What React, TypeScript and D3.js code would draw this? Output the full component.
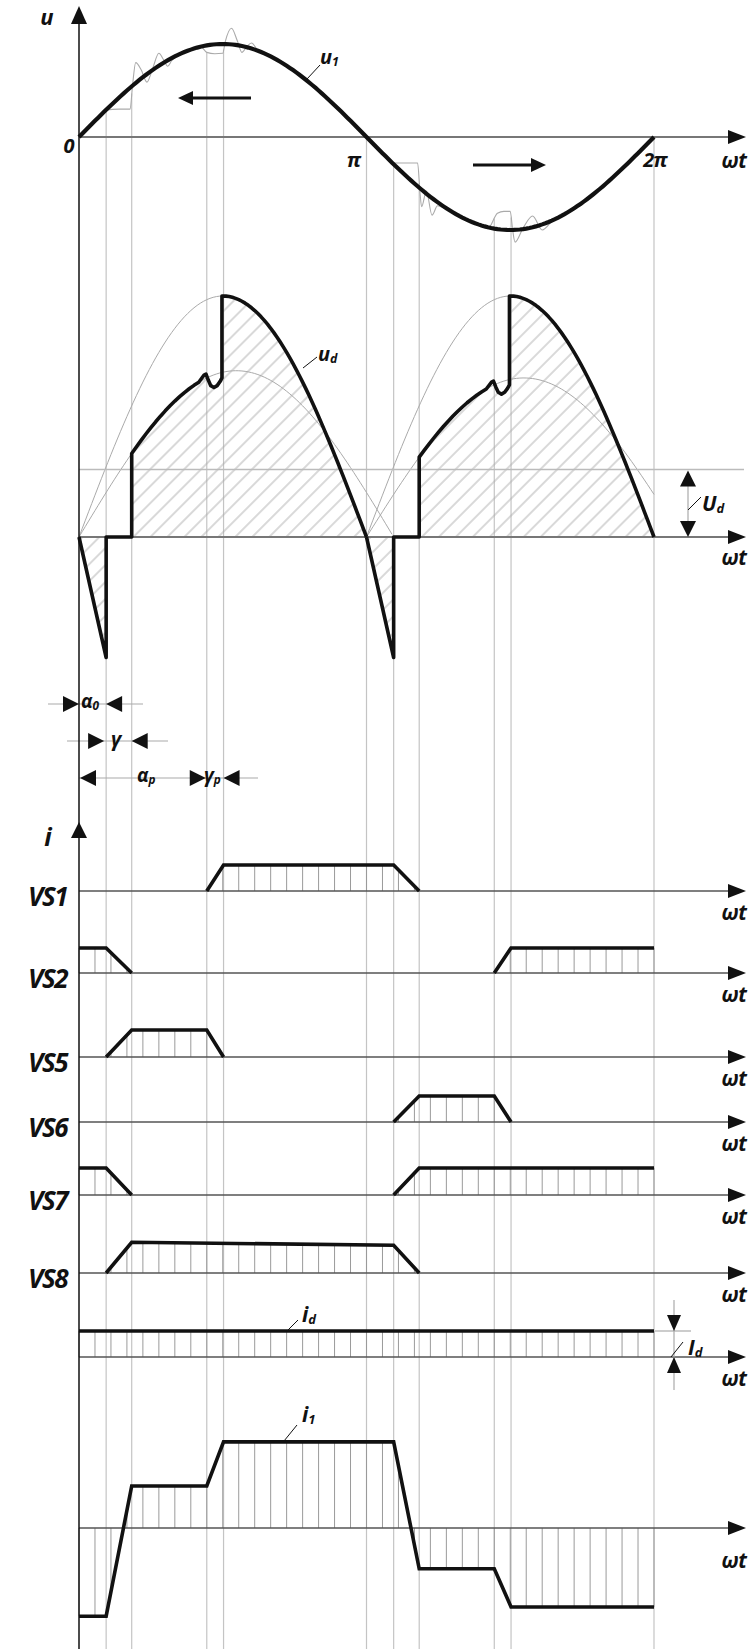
import * as d3 from 'd3'

type Pt = [number, number]

// angles in degrees, 0..360 = 0..2π
const gridAngles = [17, 33, 80, 90.5, 180, 197, 213, 260, 270.5, 360]

// gray u1 with commutation ripple [angle, u/Um]
const u1Ripple: Pt[] = [
  [0, 0], [8, 0.139], [17, 0.29], [25, 0.3], [32, 0.3], [33.5, 0.55], [35.5, 0.8], [39, 0.72],
  [42.5, 0.59], [46, 0.73], [50, 0.9], [53, 0.83], [55.5, 0.76], [58, 0.82], [62, 0.88], [70, 0.94],
  [76, 0.975], [80, 0.91], [85, 0.895], [90, 0.9], [91.5, 1.02], [95.5, 1.17], [99, 1.04], [102, 0.91],
  [105, 0.97], [108, 1.01], [112, 0.93], [120, 0.866], [135, 0.707], [150, 0.5], [165, 0.259], [180, 0],
  [188, -0.14], [197, -0.28], [205, -0.28], [212, -0.28], [213.5, -0.6], [214.5, -0.75], [217.5, -0.58],
  [221, -0.84], [224.5, -0.74], [229, -0.77], [240, -0.866], [250, -0.94], [256, -0.985], [262, -0.82],
  [266, -0.8], [270, -0.8], [271.5, -1.0], [273, -1.13], [278, -0.98], [284, -0.85], [290, -1.0],
  [297, -0.89], [305, -0.82], [315, -0.707], [330, -0.5], [345, -0.259], [360, 0],
]

// rectified voltage ud (in units of the big arc)
const udSpike = -0.5
const udSmallAmp = [0.69, 0.66]
const udSmallSpan = 197
const udHook: Pt[] = [[78.3, 0.672], [79.5, 0.676], [81, 0.65], [82.5, 0.628], [84.5, 0.62], [86.5, 0.628], [88.3, 0.645], [89.5, 0.66]]
const udLevel = 0.28

// valve currents [angle, i/Id]
const vs1: Pt[][] = [[[80, 0], [90.5, 1], [197, 1], [213, 0]]]
const vs2: Pt[][] = [[[0, 1], [17, 1], [33, 0]], [[260, 0], [270.5, 1], [360, 1]]]
const vs5: Pt[][] = [[[17, 0], [33, 1], [80, 1], [90.5, 0]]]
const vs6: Pt[][] = [[[197, 0], [213, 1], [260, 1], [270.5, 0]]]
const vs7: Pt[][] = [[[0, 1], [17, 1], [33, 0]], [[197, 0], [213, 1], [360, 1]]]
const vs8: Pt[][] = [[[17, 0], [33, 1.18], [197, 1.07], [213, 0]]]
const idCurve: Pt[][] = [[[0, 1], [360, 1]]]
const i1Curve: Pt[][] = [[
  [0, -2.1], [17, -2.1], [33, 1], [80, 1], [90.5, 2.05], [197, 2.05],
  [213, -0.97], [260, -0.97], [270.5, -1.88], [360, -1.88],
]]

const W = 749
const H = 1649
const X0 = 79
const AX_END = 746
const x = d3.scaleLinear().domain([0, 360]).range([X0, 654])
const rad = (a: number) => (a * Math.PI) / 180
const FONT = "'Open Sans', 'DejaVu Sans', sans-serif"
const GRID = '#c4c4c4'
const INK = '#111'

const interp = (pts: Pt[], a: number): number | null => {
  for (let k = 0; k < pts.length - 1; k++) {
    const [a0, v0] = pts[k]
    const [a1, v1] = pts[k + 1]
    if (a1 > a0 && a >= a0 && a <= a1) return v0 + ((v1 - v0) * (a - a0)) / (a1 - a0)
  }
  return null
}

// filled arrow head, tip at (tx,ty) pointing dir
const head = (tx: number, ty: number, dir: 'l' | 'r' | 'u' | 'd', len = 16, half = 7) => {
  if (dir === 'r') return `M${tx},${ty}L${tx - len},${ty - half}L${tx - len},${ty + half}Z`
  if (dir === 'l') return `M${tx},${ty}L${tx + len},${ty - half}L${tx + len},${ty + half}Z`
  if (dir === 'u') return `M${tx},${ty}L${tx - half},${ty + len}L${tx + half},${ty + len}Z`
  return `M${tx},${ty}L${tx - half},${ty - len}L${tx + half},${ty - len}Z`
}

const rows = [
  { label: 'VS1', data: vs1, base: 891, unit: 26 },
  { label: 'VS2', data: vs2, base: 973, unit: 25 },
  { label: 'VS5', data: vs5, base: 1057, unit: 27 },
  { label: 'VS6', data: vs6, base: 1122, unit: 26 },
  { label: 'VS7', data: vs7, base: 1195, unit: 27 },
  { label: 'VS8', data: vs8, base: 1273, unit: 26 },
  { label: '', data: idCurve, base: 1357, unit: 26 },
  { label: '', data: i1Curve, base: 1528, unit: 42 },
]

const Omega = ({ y }: { y: number }) => (
  <text x={734} y={y} textAnchor="middle" fontSize={21} fontWeight={700} fontStyle="italic" fill={INK} letterSpacing={-0.5}>ωt</text>
)

const Sub = ({ x0, y, main, sub, size = 20 }: { x0: number; y: number; main: string; sub: string; size?: number }) => (
  <text x={x0} y={y} fontSize={size} fontWeight={700} fontStyle="italic" fill={INK}>
    {main}
    <tspan fontSize={size * 0.62} dy={2}>{sub}</tspan>
  </text>
)

export default function App() {
  // panel 1
  const y1 = d3.scaleLinear().domain([-1, 1]).range([230, 44])
  const u1Pts: Pt[] = d3.range(0, 361, 2).map((a) => [a, Math.sin(rad(a))] as Pt)
  const line1 = d3.line<Pt>().x((d) => x(d[0])).y((d) => y1(d[1]))
  const ripple1 = d3.line<Pt>().x((d) => x(d[0])).y((d) => y1(d[1])).curve(d3.curveMonotoneX)

  // panel 2
  const y2 = d3.scaleLinear().domain([0, 1]).range([537, 296])
  const line2 = d3.line<Pt>().x((d) => x(d[0])).y((d) => y2(d[1]))
  const udPeriod = (k: number): Pt[] => {
    const o = 180 * k
    const s = udSmallAmp[k]
    const f = s / udSmallAmp[0]
    const small = (a: number) => s * Math.sin((Math.PI * a) / udSmallSpan)
    const pts: Pt[] = [[o, 0], [o + 17, udSpike], [o + 17, 0], [o + 33, 0]]
    d3.range(33, 78, 3).forEach((a) => pts.push([o + a, small(a)]))
    udHook.forEach(([a, v]) => pts.push([o + a, v * f]))
    pts.push([o + 89.5, 1])
    d3.range(90, 180.01, 2).forEach((a) => pts.push([o + a, Math.sin(rad(a))]))
    return pts
  }
  const ud = [udPeriod(0), udPeriod(1)]
  const bigArcs = [0, 1].map((k) => d3.range(0, 180.01, 2).map((a) => [180 * k + a, Math.sin(rad(a))] as Pt))
  const smallArcs = [0, 1].map((k) =>
    d3.range(0, Math.min(udSmallSpan, 360 - 180 * k) + 0.01, 2).map(
      (a) => [180 * k + a, udSmallAmp[k] * Math.sin((Math.PI * a) / udSmallSpan)] as Pt,
    ),
  )
  const udArea = ud.map((p) => line2(p) + 'Z').join('')

  const hatchAngles = d3.range(0, 361, 10)

  return (
    <svg width={W} height={H} viewBox={`0 0 ${W} ${H}`} fontFamily={FONT}
      style={{ position: 'absolute', left: 0, top: 0, background: '#fff', display: 'block' }}>
      <defs>
        <pattern id="diag" width={12} height={12} patternUnits="userSpaceOnUse" patternTransform="rotate(45)">
          <line x1={6} y1={0} x2={6} y2={12} stroke="#aaa" strokeWidth={0.9} />
        </pattern>
        <clipPath id="udClip"><path d={udArea} /></clipPath>
      </defs>

      {/* vertical guide lines */}
      {gridAngles.map((a) => {
        const v = interp(u1Ripple, a) ?? 0
        return <line key={a} x1={x(a)} x2={x(a)} y1={y1(v)} y2={H} stroke={GRID} strokeWidth={1.2} />
      })}

      {/* ---------- panel 1: u ---------- */}
      <path d={ripple1(u1Ripple) ?? ''} fill="none" stroke="#aaa" strokeWidth={1.1} />
      <line x1={X0} x2={AX_END - 15} y1={y1(0)} y2={y1(0)} stroke="#777" strokeWidth={2} />
      <path d={head(AX_END, y1(0), 'r', 18, 7)} fill={INK} />
      <path d={line1(u1Pts) ?? ''} fill="none" stroke={INK} strokeWidth={4.2} />
      <line x1={307} y1={79} x2={320} y2={65} stroke={INK} strokeWidth={1} />
      <Sub x0={320} y={64} main="u" sub="1" size={20} />
      <line x1={251} x2={190} y1={98} y2={98} stroke={INK} strokeWidth={2.8} />
      <path d={head(178, 98, 'l', 15, 7)} fill={INK} />
      <line x1={473} x2={534} y1={165} y2={165} stroke={INK} strokeWidth={2.8} />
      <path d={head(546, 165, 'r', 15, 7)} fill={INK} />
      <text x={47} y={25} textAnchor="middle" fontSize={22} fontWeight={700} fontStyle="italic" fill={INK}>u</text>
      <text x={69} y={153} textAnchor="middle" fontSize={20} fontWeight={700} fontStyle="italic" fill={INK}>0</text>
      <text x={354} y={167} textAnchor="middle" fontSize={20} fontWeight={700} fontStyle="italic" fill={INK}>π</text>
      <text x={655} y={167} textAnchor="middle" fontSize={20} fontWeight={700} fontStyle="italic" fill={INK} letterSpacing={-1}>2π</text>
      <Omega y={168} />

      {/* ---------- panel 2: ud ---------- */}
      <rect x={X0} y={280} width={600} height={400} fill="url(#diag)" clipPath="url(#udClip)" />
      {bigArcs.map((p, k) => <path key={'b' + k} d={line2(p) ?? ''} fill="none" stroke="#aaa" strokeWidth={1} />)}
      {smallArcs.map((p, k) => <path key={'s' + k} d={line2(p) ?? ''} fill="none" stroke="#aaa" strokeWidth={1} />)}
      <line x1={X0} x2={744} y1={y2(udLevel)} y2={y2(udLevel)} stroke="#bbb" strokeWidth={1.6} />
      <line x1={X0} x2={AX_END - 15} y1={y2(0)} y2={y2(0)} stroke="#777" strokeWidth={2} />
      <path d={head(AX_END, y2(0), 'r', 18, 7)} fill={INK} />
      {ud.map((p, k) => <path key={'u' + k} d={line2(p) ?? ''} fill="none" stroke={INK} strokeWidth={3.6} strokeLinejoin="round" />)}
      <line x1={303} y1={368} x2={317} y2={357} stroke={INK} strokeWidth={1} />
      <Sub x0={318} y={361} main="u" sub="d" size={20} />
      <line x1={688} x2={688} y1={y2(udLevel) + 14} y2={y2(0) - 14} stroke="#aaa" strokeWidth={1.2} />
      <path d={head(688, y2(udLevel) + 1, 'u', 16, 8)} fill={INK} />
      <path d={head(688, y2(0), 'd', 16, 8)} fill={INK} />
      <line x1={688} y1={510} x2={701} y2={497} stroke={INK} strokeWidth={1} />
      <Sub x0={702} y={511} main="U" sub="d" size={21} />
      <Omega y={565} />

      {/* ---------- angle annotations ---------- */}
      <line x1={48} x2={143} y1={704} y2={704} stroke="#aaa" strokeWidth={1.2} />
      <path d={head(x(0), 704, 'r', 16, 8)} fill={INK} />
      <path d={head(x(17), 704, 'l', 16, 8)} fill={INK} />
      <Sub x0={81} y={708} main="α" sub="0" size={19} />
      <line x1={67} x2={168} y1={741} y2={741} stroke="#aaa" strokeWidth={1.2} />
      <path d={head(x(17) - 2, 741, 'r', 16, 8)} fill={INK} />
      <path d={head(x(33), 741, 'l', 16, 8)} fill={INK} />
      <text x={116} y={746} textAnchor="middle" fontSize={20} fontWeight={700} fontStyle="italic" fill={INK}>γ</text>
      <line x1={x(0)} x2={258} y1={778} y2={778} stroke="#aaa" strokeWidth={1.2} />
      <path d={head(x(0) + 1, 778, 'l', 16, 8)} fill={INK} />
      <path d={head(x(80) - 1, 778, 'r', 16, 8)} fill={INK} />
      <path d={head(x(90.5), 778, 'l', 16, 8)} fill={INK} />
      <Sub x0={137} y={782} main="α" sub="p" size={19} />
      <Sub x0={204} y={782} main="γ" sub="p" size={19} />

      {/* ---------- current rows ---------- */}
      <text x={48} y={846} textAnchor="middle" fontSize={25} fontWeight={700} fontStyle="italic" fill={INK}>i</text>
      {rows.map((r) => {
        const yr = (v: number) => r.base - v * r.unit
        const lineR = d3.line<Pt>().x((d) => x(d[0])).y((d) => yr(d[1]))
        const hatch: JSX.Element[] = []
        r.data.forEach((piece, pi) =>
          hatchAngles.forEach((a) => {
            const v = interp(piece, a)
            if (v !== null && Math.abs(v) > 0.04)
              hatch.push(<line key={pi + '-' + a} x1={x(a)} x2={x(a)} y1={r.base} y2={yr(v)} stroke="#9a9a9a" strokeWidth={1} />)
          }),
        )
        return (
          <g key={r.base}>
            {hatch}
            <line x1={X0} x2={AX_END - 15} y1={r.base} y2={r.base} stroke="#555" strokeWidth={1.6} />
            <path d={head(AX_END, r.base, 'r', 18, 7)} fill={INK} />
            {r.data.map((piece, pi) => (
              <path key={pi} d={lineR(piece) ?? ''} fill="none" stroke={INK} strokeWidth={3.6} />
            ))}
            {r.label && (
              <text x={67} y={r.base + 15} textAnchor="end" fontSize={26} fontWeight={700} fontStyle="italic" fill={INK} letterSpacing={-1.5}>
                {r.label}
              </text>
            )}
            <Omega y={r.base + (r.unit > 30 ? 40 : 29)} />
          </g>
        )
      })}

      {/* id / i1 labels and Id dimension */}
      <line x1={287} y1={1331} x2={298} y2={1320} stroke={INK} strokeWidth={1} />
      <Sub x0={302} y={1322} main="i" sub="d" size={21} />
      <line x1={284} y1={1441} x2={297} y2={1425} stroke={INK} strokeWidth={1} />
      <Sub x0={302} y={1422} main="i" sub="1" size={21} />
      <line x1={655} x2={691} y1={1331} y2={1331} stroke="#bbb" strokeWidth={1.4} />
      <line x1={674} x2={674} y1={1300} y2={1390} stroke="#aaa" strokeWidth={1.2} />
      <path d={head(674, 1331, 'd', 16, 7)} fill={INK} />
      <path d={head(674, 1357, 'u', 16, 7)} fill={INK} />
      <line x1={671} y1={1357} x2={683} y2={1342} stroke={INK} strokeWidth={1} />
      <Sub x0={688} y={1355} main="I" sub="d" size={21} />

      {/* y axis */}
      <line x1={X0} x2={X0} y1={18} y2={H} stroke={INK} strokeWidth={1.5} />
      <path d={head(X0, 6, 'u', 18, 8)} fill={INK} />
      <path d={head(X0, 822, 'u', 16, 8)} fill={INK} />
    </svg>
  )
}
